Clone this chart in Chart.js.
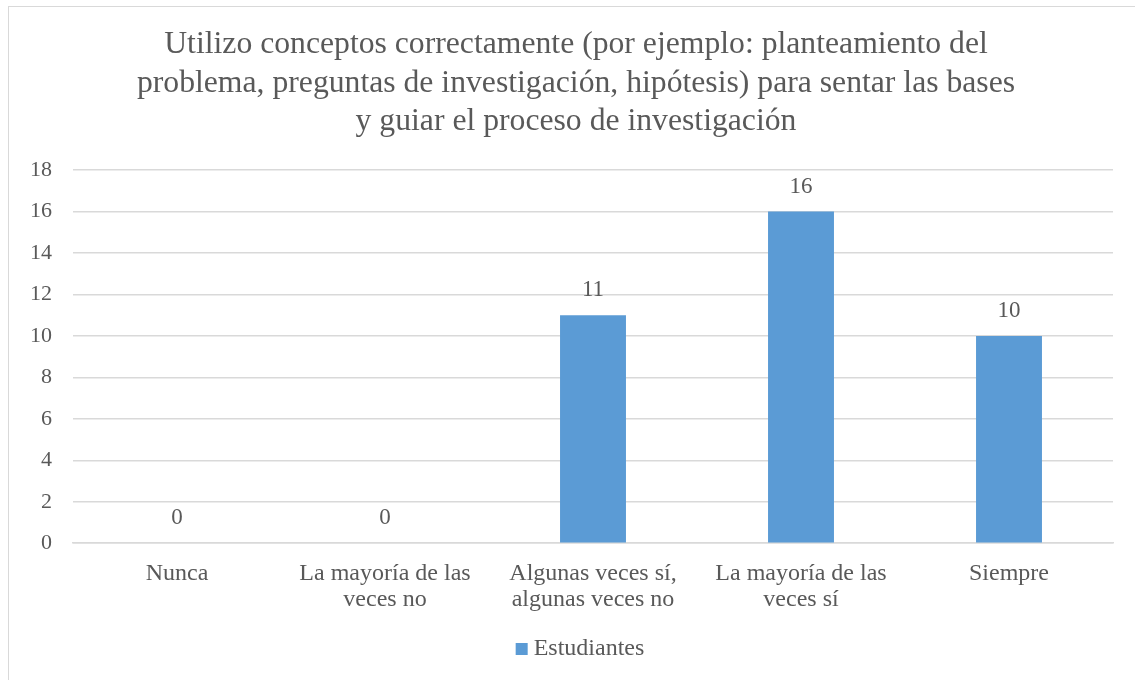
<!DOCTYPE html>
<html>
<head>
<meta charset="utf-8">
<script src="https://cdn.jsdelivr.net/npm/chart.js@4.4.1/dist/chart.umd.min.js"></script>
<style>
  html, body { margin: 0; padding: 0; background: #fff; overflow: hidden; }
  #frame { position: absolute; left: 8px; top: 6px; width: 1200px; height: 700px; border: 1px solid #d9d9d9; }
  #wrap { position: absolute; left: 0; top: 0; width: 1135px; height: 680px; }
</style>
</head>
<body>
<div id="frame"></div>
<div id="wrap"><canvas id="chart"></canvas></div>
<script>
const titleLines = [
    'Utilizo conceptos correctamente (por ejemplo: planteamiento del',
    'problema, preguntas de investigación, hipótesis) para sentar las bases',
    'y guiar el proceso de investigación'
];
const categories = [
    'Nunca',
    ['La mayoría de las', 'veces no'],
    ['Algunas veces sí,', 'algunas veces no'],
    ['La mayoría de las', 'veces sí'],
    'Siempre'
];
const estudiantes = [0, 0, 11, 16, 10];
const seriesName = 'Estudiantes';

const FONT = "'Liberation Serif', 'Times New Roman', serif";
const TEXT = '#595959';
const BAR = '#5b9bd5';
const NONE = 'rgba(0,0,0,0)';
const TITLE_SIZE = 31.7;
const TITLE_LH = 1.21;
const TITLE_PAD_TOP = 26;
const FRAME_CENTRE = 576;

// value labels above bars
const valueLabels = {
    id: 'valueLabels',
    afterDatasetsDraw(chart) {
        const ctx = chart.ctx;
        ctx.save();
        ctx.font = '23px ' + FONT;
        ctx.fillStyle = TEXT;
        ctx.textAlign = 'center';
        ctx.textBaseline = 'middle';
        chart.getDatasetMeta(0).data.forEach((bar, i) => {
            ctx.fillText(String(estudiantes[i]), bar.x, bar.y - 25);
        });
        ctx.restore();
    }
};

// title and legend centred on the whole frame; built-in ones only reserve the space
const frameCentred = {
    id: 'frameCentred',
    afterDraw(chart) {
        const ctx = chart.ctx;
        ctx.save();
        ctx.fillStyle = TEXT;
        ctx.textBaseline = 'middle';

        const lh = TITLE_SIZE * TITLE_LH;
        const top = chart.titleBlock.top + TITLE_PAD_TOP;
        ctx.font = TITLE_SIZE + 'px ' + FONT;
        ctx.textAlign = 'center';
        titleLines.forEach((line, i) => {
            ctx.fillText(line, FRAME_CENTRE, top + lh * (i + 0.5));
        });

        const hit = chart.legend.legendHitBoxes[0];
        const cy = hit.top + hit.height / 2;
        ctx.font = '24px ' + FONT;
        const textW = ctx.measureText(seriesName).width;
        const gap = 6;
        const startX = FRAME_CENTRE + 4 - (12 + gap + textW) / 2;
        ctx.fillStyle = BAR;
        ctx.fillRect(startX, cy - 6, 12, 12);
        ctx.fillStyle = TEXT;
        ctx.textAlign = 'left';
        ctx.fillText(seriesName, startX + 12 + gap, cy);
        ctx.restore();
    }
};

new Chart(document.getElementById('chart').getContext('2d'), {
    type: 'bar',
    data: {
        labels: categories,
        datasets: [{
            label: seriesName,
            data: estudiantes,
            backgroundColor: BAR,
            categoryPercentage: 1,
            barPercentage: 0.317
        }]
    },
    options: {
        responsive: true,
        maintainAspectRatio: false,
        animation: false,
        layout: { padding: { left: 9, right: 22, top: 0, bottom: 9 } },
        plugins: {
            title: {
                display: true,
                text: titleLines,
                color: NONE,
                font: { family: FONT, size: TITLE_SIZE, weight: 'normal', lineHeight: TITLE_LH },
                padding: { top: TITLE_PAD_TOP, bottom: 29 }
            },
            legend: {
                position: 'bottom',
                labels: {
                    color: NONE,
                    font: { family: FONT, size: 24 },
                    boxWidth: 12,
                    boxHeight: 12,
                    padding: 9,
                    generateLabels: chart => Chart.defaults.plugins.legend.labels.generateLabels(chart)
                        .map(item => ({ ...item, fillStyle: NONE, strokeStyle: NONE, lineWidth: 0 }))
                }
            },
            tooltip: { enabled: false }
        },
        scales: {
            y: {
                min: 0,
                max: 18,
                ticks: { stepSize: 2, color: TEXT, font: { family: FONT, size: 22 }, padding: 21 },
                grid: { color: '#d9d9d9', lineWidth: 1.5, drawTicks: false },
                border: { display: false }
            },
            x: {
                ticks: { color: TEXT, font: { family: FONT, size: 24, lineHeight: 1.1 }, padding: 9, maxRotation: 0 },
                grid: { display: false },
                border: { color: '#d9d9d9', width: 1.5 },
                afterFit(scale) { scale.height += 6; }
            }
        }
    },
    plugins: [valueLabels, frameCentred]
});
</script>
</body>
</html>
